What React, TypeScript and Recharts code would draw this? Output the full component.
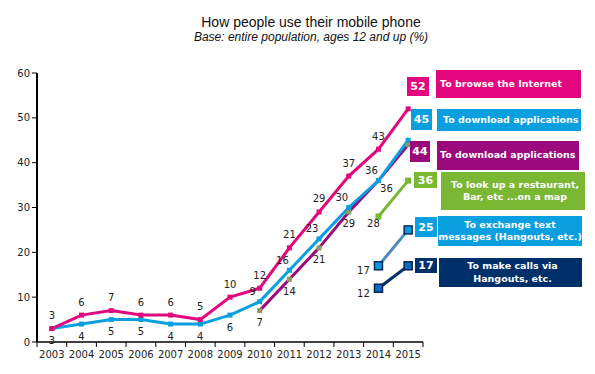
import { LineChart, Line, XAxis, YAxis } from "recharts";

const years = ["2003", "2004", "2005", "2006", "2007", "2008", "2009", "2010", "2011", "2012", "2013", "2014", "2015"];
const browse = [3, 6, 7, 6, 6, 5, 10, 12, 21, 29, 37, 43, 52];
const apps = [3, 4, 5, 5, 4, 4, 6, 9, 16, 23, 30, 36, 45];
const apps2 = [null, null, null, null, null, null, null, 7, 14, 21, 29, 36, 44];
const maps = [null, null, null, null, null, null, null, null, null, null, null, 28, 36];
const texts = [null, null, null, null, null, null, null, null, null, null, null, 17, 25];
const calls = [null, null, null, null, null, null, null, null, null, null, null, 12, 17];
const yTicks = [0, 10, 20, 30, 40, 50, 60];

// where each data label sits relative to its point ("" = no label)
const browseLabels = ["t", "t", "t", "t", "t", "t", "t", "t", "t", "t", "t", "t", ""];
const appsLabels = ["b", "b", "b", "b", "b", "b", "b", "tl", "tl", "tl", "tl", "tl", ""];
const apps2Labels = ["", "", "", "", "", "", "", "b", "b", "b", "b", "br", ""];
const mapsLabels = ["", "", "", "", "", "", "", "", "", "", "", "bl", ""];
const textsLabels = ["", "", "", "", "", "", "", "", "", "", "", "l", ""];
const callsLabels = ["", "", "", "", "", "", "", "", "", "", "", "l", ""];

const data = years.map((year, i) => ({
	year,
	browse: browse[i],
	apps: apps[i],
	apps2: apps2[i],
	maps: maps[i],
	texts: texts[i],
	calls: calls[i],
}));

const W = 595;
const H = 374;
const M = { top: 73, right: 172, bottom: 12, left: 0 };
const Y_W = 37;
const STEP = (W - Y_W - M.right) / years.length;

const offsets: Record<string, [number, number]> = {
	t: [0, -13],
	b: [0, 12],
	tl: [-7, -10],
	br: [8, 8],
	bl: [-5, 7],
	l: [-15, 5],
};

const FONT = "'DejaVu Sans', Verdana, sans-serif";

const makeLabel = (codes: string[]) => (props: any) => {
	const { x, y, value, index } = props;
	const code = codes[index];
	if (value == null || !code) return null;
	const [dx, dy] = offsets[code];
	return (
		<text
			x={x + dx}
			y={y + dy}
			dy="0.35em"
			textAnchor="middle"
			fontSize={10}
			fontFamily={FONT}
			fill="#222"
		>
			{value}
		</text>
	);
};

const makeDot = (size: number, fill: string, stroke?: string) => (props: any) => {
	const { cx, cy, index } = props;
	if (cx == null || cy == null || props.value == null) return <g key={`d-${index}`} />;
	return (
		<rect
			key={`d-${index}`}
			x={cx - size / 2}
			y={cy - size / 2}
			width={size}
			height={size}
			fill={fill}
			stroke={stroke ?? "none"}
			strokeWidth={stroke ? 1.5 : 0}
		/>
	);
};

const XTick = (props: any) => {
	const { x, y, payload, index } = props;
	const axisY = y - 7;
	return (
		<g>
			<line x1={x - STEP / 2} x2={x - STEP / 2} y1={axisY} y2={axisY + 5} stroke="#000" />
			{index === years.length - 1 && (
				<line x1={x + STEP / 2} x2={x + STEP / 2} y1={axisY} y2={axisY + 5} stroke="#000" />
			)}
			<text x={x} y={axisY + 12} dy="0.35em" textAnchor="middle" fontSize={10} fontFamily={FONT} fill="#222">
				{payload.value}
			</text>
		</g>
	);
};

const Tag = (props: {
	value: number | null;
	vx: number;
	vy: number;
	vw: number;
	vh: number;
	lx: number;
	ly: number;
	lw: number;
	lh: number;
	color: string;
	lines: string[];
	align?: "left" | "center";
	pad?: number;
}) => {
	const { value, vx, vy, vw, vh, lx, ly, lw, lh, color, lines, align = "left", pad = 4 } = props;
	const common = {
		position: "absolute" as const,
		background: color,
		color: "#fff",
		fontFamily: FONT,
		fontWeight: "bold" as const,
		display: "flex",
		flexDirection: "column" as const,
		justifyContent: "center",
	};
	return (
		<>
			<div style={{ ...common, left: vx, top: vy, width: vw, height: vh, alignItems: "center", fontSize: 11 }}>
				{value}
			</div>
			<div
				style={{
					...common,
					left: lx,
					top: ly,
					width: lw - pad,
					height: lh,
					paddingLeft: pad,
					alignItems: align === "center" ? "center" : "flex-start",
					fontSize: 9.5,
					lineHeight: "12.5px",
					whiteSpace: "nowrap",
				}}
			>
				{lines.map((s) => (
					<span key={s}>{s}</span>
				))}
			</div>
		</>
	);
};

export default function App() {
	return (
		<div style={{ position: "absolute", left: 0, top: 0, width: W, height: H, background: "#fff", overflow: "hidden" }}>
			<div
				style={{
					position: "absolute",
					left: 0,
					width: 622,
					top: 14,
					textAlign: "center",
					fontFamily: "'Liberation Sans', Arial, sans-serif",
					color: "#111",
				}}
			>
				<div style={{ fontSize: 14, lineHeight: "16px" }}>How people use their mobile phone</div>
				<div style={{ fontSize: 12, lineHeight: "14px", fontStyle: "italic" }}>
					Base: entire population, ages 12 and up (%)
				</div>
			</div>
			<div style={{ position: "absolute", left: 0, top: 0 }}>
				<LineChart width={W} height={H} data={data} margin={M}>
					<XAxis
						dataKey="year"
						padding={{ left: STEP / 2, right: STEP / 2 }}
						tickLine={false}
						tickSize={5}
						tickMargin={2}
						height={20}
						interval={0}
						tick={<XTick />}
						axisLine={{ stroke: "#000", strokeWidth: 1.5 }}
					/>
					<YAxis
						width={Y_W}
						domain={[0, 60]}
						ticks={yTicks}
						interval={0}
						tickSize={5}
						tickMargin={2}
						axisLine={{ stroke: "#000", strokeWidth: 2 }}
						tickLine={{ stroke: "#000" }}
						tick={{ fontSize: 10, fontFamily: FONT, fill: "#222" }}
					/>
					<Line
						dataKey="apps2"
						stroke="#9b0a7d"
						strokeWidth={3}
						dot={makeDot(5, "#8c9a60")}
						label={makeLabel(apps2Labels)}
						isAnimationActive={false}
					/>
					<Line
						dataKey="apps"
						stroke="#0aa0e0"
						strokeWidth={3}
						dot={makeDot(5, "#0aa0e0")}
						label={makeLabel(appsLabels)}
						isAnimationActive={false}
					/>
					<Line
						dataKey="browse"
						stroke="#e2077c"
						strokeWidth={3}
						dot={makeDot(5, "#e2077c")}
						label={makeLabel(browseLabels)}
						isAnimationActive={false}
					/>
					<Line
						dataKey="maps"
						stroke="#7ab833"
						strokeWidth={3}
						dot={makeDot(6, "#7ab833")}
						label={makeLabel(mapsLabels)}
						isAnimationActive={false}
					/>
					<Line
						dataKey="texts"
						stroke="#4a8cbc"
						strokeWidth={3}
						dot={makeDot(8, "#0a9ae0", "#0a2a5a")}
						label={makeLabel(textsLabels)}
						isAnimationActive={false}
					/>
					<Line
						dataKey="calls"
						stroke="#00306a"
						strokeWidth={3}
						dot={makeDot(8, "#0a6cc0", "#001f4f")}
						label={makeLabel(callsLabels)}
						isAnimationActive={false}
					/>
				</LineChart>
			</div>
			<Tag value={browse[12]} vx={407} vy={77} vw={22} vh={19} lx={436} ly={70} lw={145} lh={28} color="#e2077c" lines={["To browse the Internet"]} />
			<Tag value={apps[12]} vx={411} vy={109} vw={21} vh={21} lx={437} ly={109} lw={144} lh={22} color="#0aa0e0" lines={["To download applications"]} pad={6} />
			<Tag value={apps2[12]} vx={410} vy={141} vw={20} vh={21} lx={437} ly={141} lw={142} lh={29} color="#9b0a7d" lines={["To download applications"]} pad={3} />
			<Tag value={maps[12]} vx={414} vy={172} vw={23} vh={16} lx={441} ly={172} lw={144} lh={38} color="#7ab833" lines={["To look up a restaurant,", "Bar, etc ...on a map"]} align="center" />
			<Tag value={texts[12]} vx={415} vy={217} vw={22} vh={20} lx={438} ly={216} lw={144} lh={30} color="#0aa0e0" lines={["To exchange text", "messages (Hangouts, etc.)"]} align="center" pad={0} />
			<Tag value={calls[12]} vx={415} vy={258} vw={22} vh={15} lx={439} ly={258} lw={143} lh={29} color="#00306a" lines={["To make calls via", "Hangouts, etc."]} align="center" />
		</div>
	);
}
